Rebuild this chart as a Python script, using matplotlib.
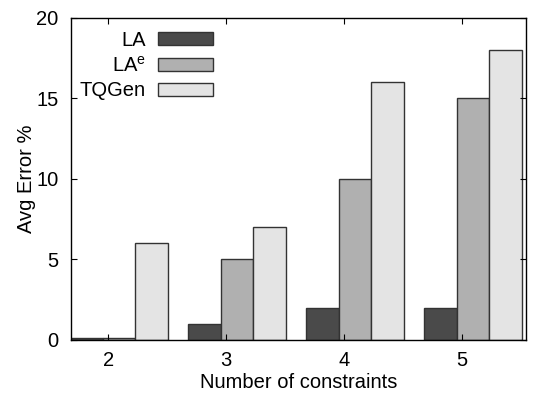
import matplotlib
matplotlib.use("Agg")
import matplotlib.pyplot as plt
import numpy as np

plt.rcParams['font.family'] = ['Liberation Sans', 'DejaVu Sans']
plt.rcParams['mathtext.fontset'] = 'custom'
plt.rcParams['mathtext.rm'] = 'Liberation Sans'
plt.rcParams['mathtext.it'] = 'Liberation Sans'

categories = [2, 3, 4, 5]
series_names = ["LA", r"LA$^{\mathrm{e}}$", "TQGen"]
la = [0.1, 1, 2, 2]
la_e = [0.1, 5, 10, 15]
tqgen = [6, 7, 16, 18]
colors = ["#4a4a4a", "#b0b0b0", "#e4e4e4"]

FS = 14.5

fig = plt.figure(figsize=(5.38, 3.98), dpi=100)
ax = fig.add_axes([0.132, 0.146, 0.846, 0.809])

x = np.array(categories, dtype=float)
w = 0.275
offsets = [0.093 - w, 0.093, 0.093 + w]
for vals, off, col, name in zip([la, la_e, tqgen], offsets, colors, series_names):
    ax.bar(x + off, vals, width=w, color=col, edgecolor="#333333", linewidth=1.0, label=name)

ax.set_xlim(1.686, 5.542)
ax.set_ylim(0, 20)
ax.set_xticks(categories)
ax.set_yticks([0, 5, 10, 15, 20])
ax.tick_params(direction="in", length=4, width=0.8, labelsize=FS, top=True, right=True)
ax.tick_params(axis="x", pad=8)
ax.tick_params(axis="y", pad=9)
for s in ax.spines.values():
    s.set_linewidth(1.0)
ax.set_xlabel("Number of constraints", fontsize=FS, labelpad=2.5)
ax.set_ylabel("Avg Error %", fontsize=FS, labelpad=0)

leg = ax.legend(loc="upper right", bbox_to_anchor=(0.321, 0.972), frameon=False,
                markerfirst=False, fontsize=FS, handlelength=2.75, handleheight=0.6,
                handletextpad=0.6, labelspacing=0.28, borderaxespad=0, borderpad=0.2)

fig.savefig("out.png", dpi=100)
